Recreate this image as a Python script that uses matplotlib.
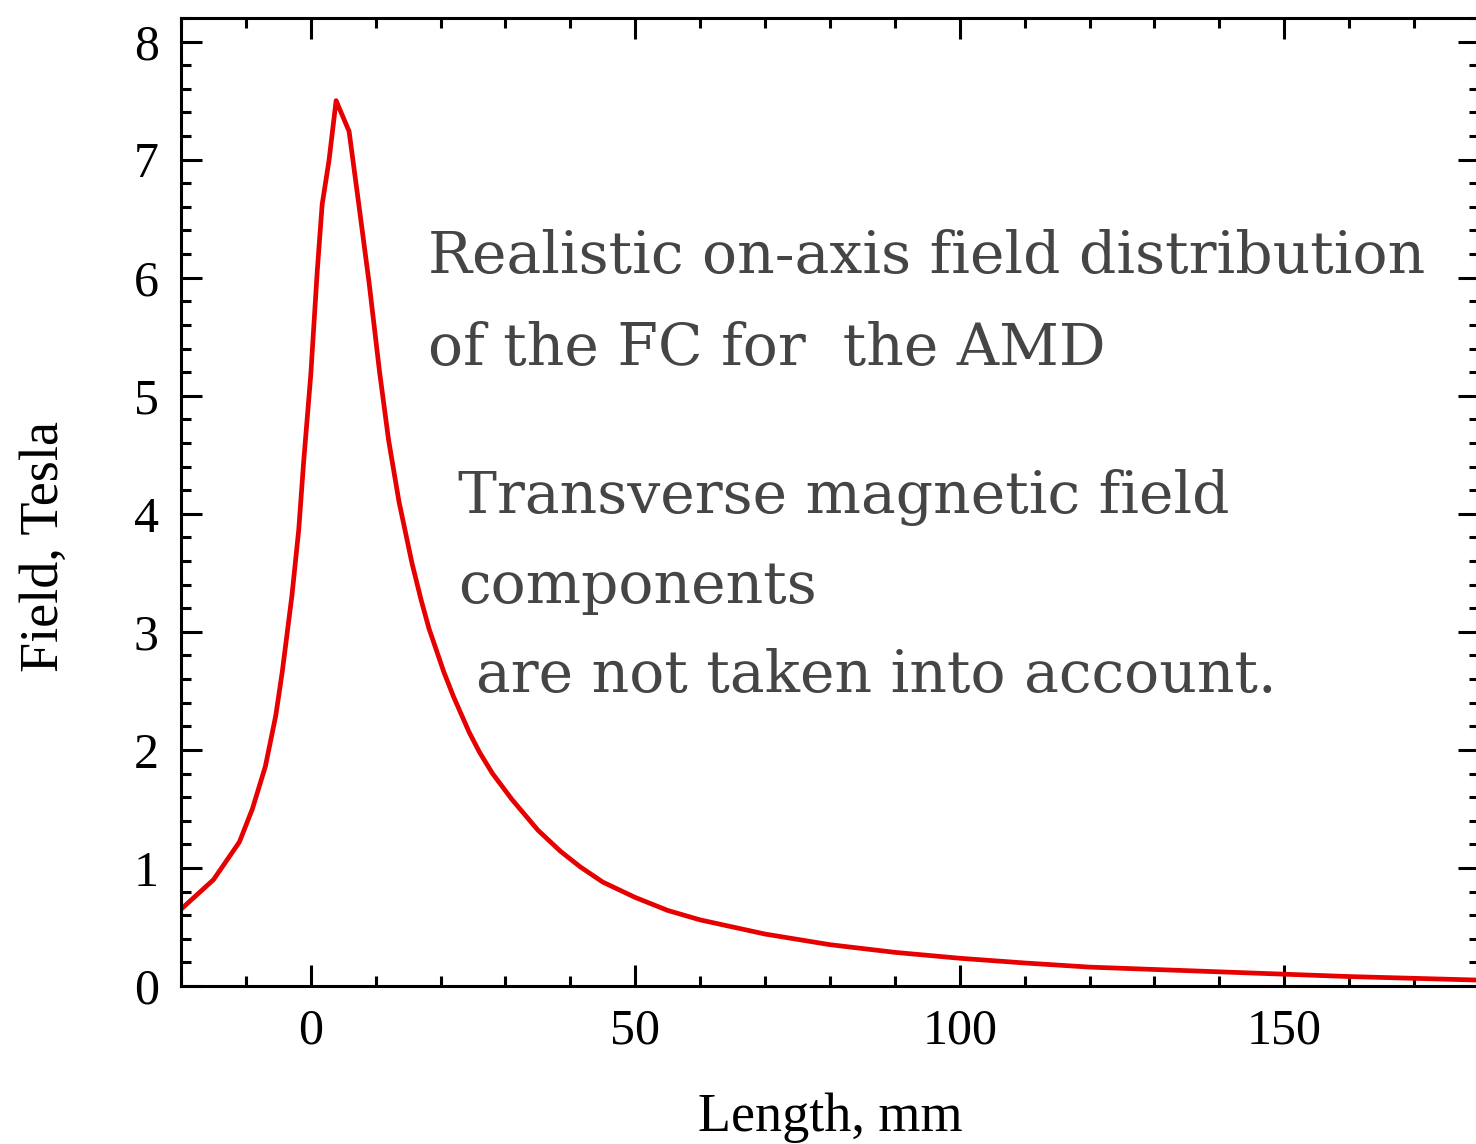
import numpy as np
import matplotlib.pyplot as plt
from matplotlib.ticker import MultipleLocator

# on-axis field profile
length_mm = [-20, -15, -11, -9, -7, -5.4, -4.4, -2.9, -1.85, -1.1, 0, 1.0, 1.75, 2.8,
             3.9, 5.9, 7.4, 9.0, 10.6, 12.0, 13.6, 15.6, 17, 18.2, 20.5, 22, 24.4, 26,
             28, 31, 35, 38.5, 41.5, 45, 50, 55, 60, 70, 80, 90, 100, 110, 120, 130,
             140, 150, 160, 170, 180]
field_T = [0.65, 0.90, 1.22, 1.50, 1.86, 2.29, 2.66, 3.31, 3.87, 4.44, 5.18, 6.06, 6.62, 6.99,
           7.50, 7.24, 6.62, 5.95, 5.20, 4.62, 4.10, 3.58, 3.27, 3.03, 2.66, 2.45, 2.15, 1.98,
           1.80, 1.58, 1.32, 1.14, 1.01, 0.88, 0.75, 0.64, 0.56, 0.44, 0.35, 0.285, 0.235, 0.195,
           0.16, 0.14, 0.12, 0.10, 0.08, 0.065, 0.05]

note_lines = ["Realistic on-axis field distribution",
              "of the FC for  the AMD",
              "Transverse magnetic field",
              "components",
              "are not taken into account."]
note_x = [428, 428, 458, 458, 476]      # pixel left edges
note_y = [273, 365, 513, 603, 692]      # pixel baselines

W, H = 1476, 1144
fig = plt.figure(figsize=(W / 100, H / 100), dpi=100)
ax = fig.add_axes([181 / W, (H - 986) / H, (W - 181) / W + 0.002, (986 - 18) / H])

ax.plot(length_mm, field_T, color='#e60000', lw=3.4)

ax.set_xlim(-20, 180)
ax.set_ylim(0, 8.2)
ax.xaxis.set_major_locator(MultipleLocator(50))
ax.xaxis.set_minor_locator(MultipleLocator(10))
ax.yaxis.set_major_locator(MultipleLocator(1))
ax.yaxis.set_minor_locator(MultipleLocator(0.2))

tfont = 'Liberation Serif'
ax.tick_params(which='both', direction='in', top=True, right=True, width=2.2, colors='black')
ax.tick_params(which='major', length=15)
ax.tick_params(which='minor', length=7)
ax.tick_params(axis='y', pad=16)
ax.tick_params(axis='x', pad=16)
for lab in ax.get_xticklabels() + ax.get_yticklabels():
    lab.set_fontfamily(tfont)
    lab.set_fontsize(36)
for s in ax.spines.values():
    s.set_linewidth(2.2)

fig.text(830 / W, 1 - 1118 / H, 'Length, mm', family=tfont, fontsize=39, ha='center', va='center')
fig.text(45 / W, 1 - 547 / H, 'Field, Tesla', family=tfont, fontsize=39, ha='center', va='center',
         rotation=90)

for txt, px, py in zip(note_lines, note_x, note_y):
    fig.text(px / W, 1 - py / H, txt, family='DejaVu Serif', fontsize=42, color='#454545',
             ha='left', va='baseline')

fig.savefig('out.png', dpi=100)
